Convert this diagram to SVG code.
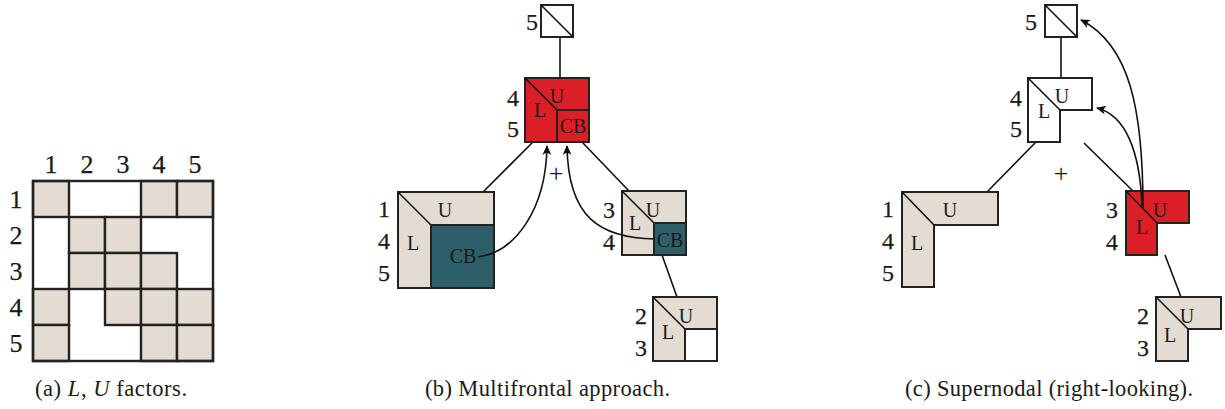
<svg xmlns="http://www.w3.org/2000/svg" width="1225" height="409" viewBox="0 0 1225 409">
<style>
text{font-family:"Liberation Serif","DejaVu Serif",serif;fill:#1a1a1a}
.num{font-size:24px;text-anchor:middle;stroke:#1a1a1a;stroke-width:0.25}
.numa{font-size:26px;text-anchor:middle;stroke:#1a1a1a;stroke-width:0.25}
.lab{font-size:20px;text-anchor:middle}
.cap{font-size:22.5px}
.plus{font-size:26px;text-anchor:middle}
.b{fill:#e3dcd3;stroke:#222;stroke-width:2}
.w{fill:#fff;stroke:#222;stroke-width:2}
.r{fill:#db1f26;stroke:#222;stroke-width:2}
.t{fill:#2c5f68;stroke:#222;stroke-width:2}
.ln{fill:none;stroke:#111;stroke-width:1.6}
.g{stroke:#222;stroke-width:2.4}
</style>
<defs>
<marker id="ah" viewBox="-11 -6 13 12" refX="0" refY="0" markerWidth="13" markerHeight="12" markerUnits="userSpaceOnUse" orient="auto">
<path d="M1,0 L-9,-4.5 Q-5,0 -9,4.5 Z" fill="#111"/>
</marker>
</defs>

<!-- Panel (a) -->
<g id="matrix">
<rect x="33" y="181" width="180" height="180" fill="#fff"/>
<g class="b g">
<rect x="33" y="181" width="36" height="36"/>
<rect x="141" y="181" width="36" height="36"/>
<rect x="177" y="181" width="36" height="36"/>
<rect x="69" y="217" width="36" height="36"/>
<rect x="105" y="217" width="36" height="36"/>
<rect x="69" y="253" width="36" height="36"/>
<rect x="105" y="253" width="36" height="36"/>
<rect x="141" y="253" width="36" height="36"/>
<rect x="33" y="289" width="36" height="36"/>
<rect x="105" y="289" width="36" height="36"/>
<rect x="141" y="289" width="36" height="36"/>
<rect x="177" y="289" width="36" height="36"/>
<rect x="33" y="325" width="36" height="36"/>
<rect x="141" y="325" width="36" height="36"/>
<rect x="177" y="325" width="36" height="36"/>
</g>
<rect x="33" y="181" width="180" height="180" fill="none" stroke="#222" stroke-width="2.4"/>
<text class="numa" x="51" y="173">1</text>
<text class="numa" x="87" y="173">2</text>
<text class="numa" x="123" y="173">3</text>
<text class="numa" x="159" y="173">4</text>
<text class="numa" x="195" y="173">5</text>
<text class="numa" x="16" y="208">1</text>
<text class="numa" x="16" y="244">2</text>
<text class="numa" x="16" y="280">3</text>
<text class="numa" x="16" y="316">4</text>
<text class="numa" x="16" y="352">5</text>
</g>
<text class="cap" x="35" y="396" textLength="152" lengthAdjust="spacing">(a)  <tspan font-style="italic">L</tspan>, <tspan font-style="italic">U</tspan> factors.</text>

<!-- Panel (b) -->
<g id="b-connectors">
<line class="ln" x1="560" y1="37" x2="560" y2="78"/>
<line class="ln" x1="533" y1="142" x2="483" y2="192"/>
<line class="ln" x1="582" y1="142" x2="629" y2="191"/>
<line class="ln" x1="662" y1="255" x2="677" y2="297"/>
</g>
<g id="b-node5">
<rect class="w" x="541" y="5" width="32" height="32"/>
<line class="ln" x1="541" y1="5" x2="573" y2="37"/>
<text class="num" x="532" y="30">5</text>
</g>
<g id="b-node45">
<rect class="r" x="525" y="78" width="64" height="64"/>
<line class="ln" x1="525" y1="78" x2="557" y2="110"/>
<rect class="r" x="557" y="110" width="32" height="32"/>
<text class="lab" x="557" y="103">U</text>
<text class="lab" x="540" y="117">L</text>
<text class="lab" x="573" y="133">CB</text>
<text class="num" x="513" y="106">4</text>
<text class="num" x="513" y="137">5</text>
</g>
<g id="b-node145">
<rect class="b" x="398" y="192" width="96" height="96"/>
<rect class="t" x="431" y="225" width="63" height="63"/>
<line class="ln" x1="398" y1="192" x2="431" y2="225"/>
<text class="lab" x="445" y="217">U</text>
<text class="lab" x="413" y="250">L</text>
<text class="lab" x="463" y="263">CB</text>
<text class="num" x="384" y="217">1</text>
<text class="num" x="384" y="249">4</text>
<text class="num" x="384" y="281">5</text>
</g>
<g id="b-node34">
<rect class="b" x="622" y="191" width="64" height="64"/>
<rect class="t" x="654" y="223" width="32" height="32"/>
<line class="ln" x1="622" y1="191" x2="654" y2="223"/>
<text class="lab" x="653" y="217">U</text>
<text class="lab" x="635" y="230">L</text>
<text class="lab" x="670" y="247">CB</text>
<text class="num" x="609" y="218">3</text>
<text class="num" x="609" y="250">4</text>
</g>
<g id="b-node23">
<rect class="b" x="653" y="297" width="64" height="64"/>
<rect class="w" x="685" y="329" width="32" height="32"/>
<line class="ln" x1="653" y1="297" x2="685" y2="329"/>
<text class="lab" x="686" y="323">U</text>
<text class="lab" x="668" y="339">L</text>
<text class="num" x="641" y="324">2</text>
<text class="num" x="641" y="356">3</text>
</g>
<g id="b-arrows">
<path class="ln" d="M478,257 C515,252 546,210 547,146" marker-end="url(#ah)"/>
<path class="ln" d="M655,239 C600,238 568,218 567,146" marker-end="url(#ah)"/>
</g>
<text class="plus" x="556" y="182">+</text>
<text class="cap" x="425" y="396" textLength="245" lengthAdjust="spacing">(b)  Multifrontal approach.</text>

<!-- Panel (c) -->
<g id="c-connectors">
<line class="ln" x1="1061" y1="37" x2="1061" y2="78"/>
<line class="ln" x1="1036" y1="142" x2="987" y2="192"/>
<line class="ln" x1="1084" y1="143" x2="1133" y2="191"/>
<line class="ln" x1="1165" y1="255" x2="1181" y2="297"/>
</g>
<g id="c-node5">
<rect class="w" x="1045" y="5" width="32" height="32"/>
<line class="ln" x1="1045" y1="5" x2="1077" y2="37"/>
<text class="num" x="1031" y="30">5</text>
</g>
<g id="c-node45">
<path class="w" d="M1028,78 H1092 V110 H1060 V142 H1028 Z"/>
<line class="ln" x1="1028" y1="78" x2="1060" y2="110"/>
<text class="lab" x="1062" y="103">U</text>
<text class="lab" x="1044" y="118">L</text>
<text class="num" x="1016" y="106">4</text>
<text class="num" x="1016" y="137">5</text>
</g>
<g id="c-node145">
<path class="b" d="M902,192 H998 V225 H934 V287 H902 Z"/>
<line class="ln" x1="902" y1="192" x2="934" y2="225"/>
<text class="lab" x="950" y="217">U</text>
<text class="lab" x="917" y="250">L</text>
<text class="num" x="888" y="217">1</text>
<text class="num" x="888" y="249">4</text>
<text class="num" x="888" y="281">5</text>
</g>
<g id="c-node34">
<path class="r" d="M1126,191 H1189 V223 H1157 V255 H1126 Z"/>
<line class="ln" x1="1126" y1="191" x2="1157" y2="223"/>
<text class="lab" x="1160" y="217">U</text>
<text class="lab" x="1142" y="234">L</text>
<text class="num" x="1112" y="218">3</text>
<text class="num" x="1112" y="250">4</text>
</g>
<g id="c-node23">
<path class="b" d="M1156,297 H1221 V329 H1188 V361 H1156 Z"/>
<line class="ln" x1="1156" y1="297" x2="1188" y2="329"/>
<text class="lab" x="1187" y="323">U</text>
<text class="lab" x="1170" y="342">L</text>
<text class="num" x="1143" y="324">2</text>
<text class="num" x="1143" y="356">3</text>
</g>
<g id="c-arrows">
<path class="ln" d="M1143,208 C1143,110 1130,45 1081,20" marker-end="url(#ah)"/>
<path class="ln" d="M1142,206 C1140,150 1125,115 1097,108" marker-end="url(#ah)"/>
</g>
<text class="plus" x="1061" y="182">+</text>
<text class="cap" x="905" y="396" textLength="288" lengthAdjust="spacing">(c)  Supernodal (right-looking).</text>
</svg>
